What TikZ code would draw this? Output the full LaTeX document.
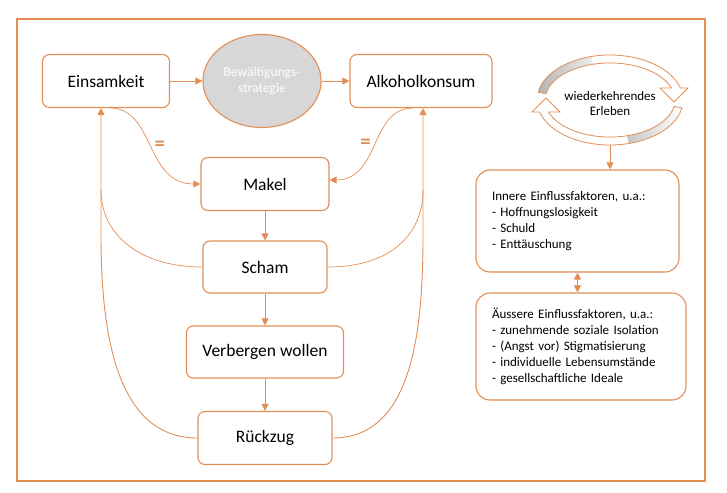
\documentclass[tikz,border=0pt]{standalone}
\usepackage{fontspec}
\setmainfont{Carlito}
\usetikzlibrary{shapes.geometric, arrows.meta, positioning, calc}
\definecolor{linorange}{RGB}{226, 142, 86}
\definecolor{circgray}{RGB}{215, 215, 215}
\definecolor{cyclegray}{RGB}{180, 180, 180}

\begin{document}
\begin{tikzpicture}[x=1pt, y=-1pt,
  box/.style={draw=linorange, line width=1.1pt, rounded corners=7pt, minimum height=53pt,
              font=\fontsize{17.5}{20}\selectfont, inner sep=2pt},
  infobox/.style={draw=linorange, line width=1.1pt, rounded corners=14pt, align=left,
                  font=\fontsize{13}{16}\selectfont, inner xsep=16pt},
  arr/.style={-{Triangle[length=7pt, width=7pt]}, linorange, line width=0.9pt},
  loopline/.style={linorange, line width=0.7pt},
  eqlabel/.style={font=\fontsize{21}{21}\bfseries\selectfont, text=linorange, inner sep=0pt},
]
\useasboundingbox (0,0) rectangle (727,492);
\draw[linorange, line width=1.4pt] (17,19) rectangle (705,481);

% Main flow
\node[box, minimum width=127pt] (eins) at (106,81) {Einsamkeit};
\node[ellipse, draw=linorange, fill=circgray, line width=1.1pt, minimum width=106pt,
      minimum height=93pt, align=center, text=white,
      font=\fontsize{13.5}{16}\selectfont] (bew) at (262,81) {Bewältigungs-\\strategie};
\node[box, minimum width=142pt] (alk) at (421,81) {Alkoholkonsum};
\node[box, minimum width=128pt] (makel) at (265,184) {Makel};
\node[box, minimum width=124pt, minimum height=52pt] (scham) at (265,267) {Scham};
\node[box, minimum width=157pt, minimum height=52pt] (verb) at (265,352) {Verbergen wollen};
\node[box, minimum width=134pt] (rueck) at (265,438) {Rückzug};

\draw[arr] (eins) -- (bew);
\draw[arr] (bew) -- (alk);
\draw[arr] (makel) -- (scham);
\draw[arr] (scham) -- (verb);
\draw[arr] (verb) -- (rueck);

% Einsamkeit / Alkoholkonsum = Makel
\draw[arr, line width=0.7pt] ([xshift=4pt]eins.south) .. controls (155,108) and (145,184) .. (makel.west)
     node[pos=0.5, right=3pt, eqlabel] {=};
\draw[arr, line width=0.7pt] ([xshift=-8pt]alk.south) .. controls (370,108) and (380,180) .. ([yshift=4pt]makel.east)
     node[pos=0.5, left=3pt, eqlabel] {=};

% Rueckkopplung
\draw[arr] (rueck.west) .. controls (115,438) and (101,330) .. (101,235) -- ([xshift=-5pt]eins.south);
\draw[loopline] (scham.west) .. controls (140,267) and (101,235) .. (101,190);
\draw[arr] (rueck.east) .. controls (413,438) and (423,330) .. (423,235) -- ([xshift=2pt]alk.south);
\draw[loopline] (scham.east) .. controls (390,267) and (423,235) .. (423,190);

% Kreislauf
\foreach \rot in {0,180} {
  \begin{scope}[rotate around={\rot:(610,100)}]
    \fill[white] (610,100) ++(190:73 and 45) arc[start angle=190, end angle=344.5, x radius=73, y radius=45]
      -- (688,88) -- (674,102) -- (660,88) -- (671.5,88)
      arc[start angle=341.1, end angle=190, x radius=65, y radius=37] -- cycle;
    \shade[left color=cyclegray, right color=white] (610,100) ++(190:73 and 45)
      arc[start angle=190, end angle=255, x radius=73, y radius=45]
      -- ($(610,100)+(255:65 and 37)$)
      arc[start angle=255, end angle=190, x radius=65, y radius=37] -- cycle;
    \draw[linorange, line width=0.8pt] (610,100) ++(190:73 and 45)
      arc[start angle=190, end angle=344.5, x radius=73, y radius=45]
      -- (688,88) -- (674,102) -- (660,88) -- (671.5,88)
      arc[start angle=341.1, end angle=190, x radius=65, y radius=37] -- cycle;
  \end{scope}
}
\node[ellipse, minimum width=146pt, minimum height=82pt, align=center,
      font=\fontsize{13}{15}\selectfont] (cyc) at (610,104) {wiederkehrendes\\Erleben};

% Einflussfaktoren
\node[infobox, text width=171pt, minimum height=102pt] (inner) at (577.5,221)
{Innere Einflussfaktoren, u.a.:\\
- Hoffnungslosigkeit\\
- Schuld\\
- Enttäuschung};
\node[infobox, text width=178pt, minimum height=107pt] (outer) at (581,346.5)
{Äussere Einflussfaktoren, u.a.:\\
- zunehmende soziale Isolation\\
- (Angst vor) Stigmatisierung\\
- individuelle Lebensumstände\\
- gesellschaftliche Ideale};

\draw[arr] (cyc.south) -- (cyc.south |- inner.north);
\draw[{Triangle[length=7pt, width=7pt]}-{Triangle[length=7pt, width=7pt]}, linorange, line width=0.9pt]
     (inner.south) -- (inner.south |- outer.north);
\end{tikzpicture}
\end{document}
